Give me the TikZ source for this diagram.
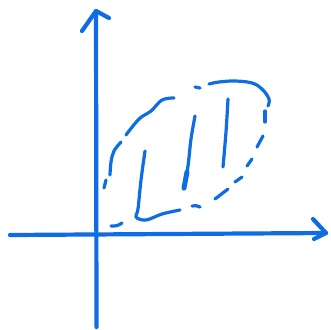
\documentclass[tikz,border=0pt]{standalone}
\usepackage{xcolor}
\usetikzlibrary{calc}
\definecolor{pen}{RGB}{14,108,228}
\tikzstyle{axis}=[draw=pen,line width=4.2pt,line cap=round,line join=round]
\tikzstyle{pen line}=[draw=pen,line width=3.2pt,line cap=round,line join=round]
\begin{document}
\begin{tikzpicture}[x=1pt,y=-1pt]
	\useasboundingbox (0,0) rectangle (331,329);
	% axes
	\coordinate (ybot) at (96.5,327);
	\coordinate (ytop) at (96,11);
	\coordinate (xleft) at (10,235);
	\coordinate (xright) at (326,233);
	\draw [style=axis] (ybot) to (ytop);
	\draw [style=axis] (82,31) -- (ytop) -- (109,18);
	\draw [style=axis] (xleft) to (xright);
	\draw [style=axis] (313,219) -- (xright) -- (314,239);
	% dashed region
	\draw [style=pen line] (96,225) -- (96.5,226);
	\draw [style=pen line] (111,226) to[bend right=20] (122,223);
	\draw [style=pen line] plot[smooth,tension=0.6] coordinates {(145,151) (141,180) (138,209) (136,217) (146,220) (162,214) (180,210)};
	\draw [style=pen line] (192,206) to[bend left=20] (200,207);
	\draw [style=pen line] (215,199) -- (228,189);
	\draw [style=pen line] (235,182) -- (242,177);
	\draw [style=pen line] (247,166) -- (252,159);
	\draw [style=pen line] (257,147) -- (263,136);
	\draw [style=pen line] (265,122) -- (265,111);
	\draw [style=pen line] plot[smooth,tension=0.6] coordinates {(268,106) (269,99) (262,89) (252,83) (235,81) (219,82) (209,84)};
	\draw [style=pen line] (195,87) -- (200,88);
	\draw [style=pen line] plot[smooth,tension=0.6] coordinates {(174,98) (162,100) (151,111) (139,119) (126,135)};
	\draw [style=pen line] plot[smooth,tension=0.6] coordinates {(121,142) (114,151) (111,162) (110,175)};
	\draw [style=pen line] (106,180) -- (104,188);
	% strokes
	\draw [style=pen line] plot[smooth,tension=0.6] coordinates {(195,116) (191,139) (188,166) (184,189)};
	\draw [draw=pen,line width=5pt,line cap=round] (187,172) -- (184,188);
	\draw [style=pen line] plot[smooth,tension=0.6] coordinates {(228,99) (226,132) (223,167)};
\end{tikzpicture}
\end{document}
